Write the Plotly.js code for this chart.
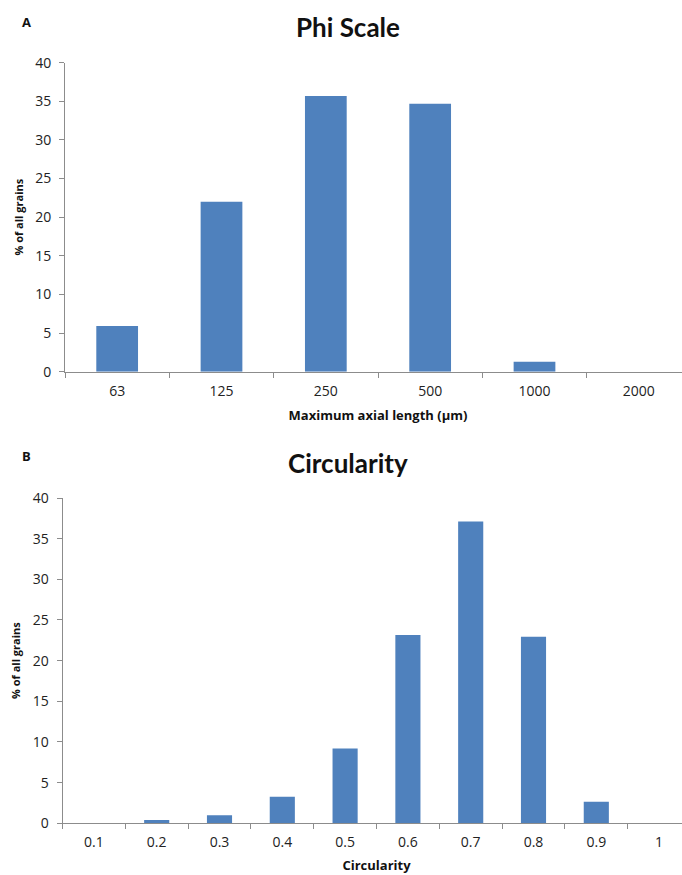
<!DOCTYPE html>
<html>
<head>
<meta charset="utf-8">
<script src="https://cdn.plot.ly/plotly-3.0.1.min.js"></script>
<style>
html,body{margin:0;padding:0;overflow:hidden;background:#fff;width:682px;height:875px;}
#chart{width:692px;height:875px;}
</style>
</head>
<body>
<div id="chart"></div>
<script>
// Panel A: Phi scale
const phiCategories = ["63", "125", "250", "500", "1000", "2000"];
const phiValues = [5.9, 22.0, 35.7, 34.7, 1.3, 0];
// Panel B: Circularity
const circCategories = ["0.1", "0.2", "0.3", "0.4", "0.5", "0.6", "0.7", "0.8", "0.9", "1"];
const circValues = [0, 0.4, 1.0, 3.25, 9.2, 23.15, 37.1, 22.95, 2.65, 0];

const barColor = "#4F81BD";
const axisGray = "#8c8c8c";
const titleFont = "Lato, 'Open Sans', sans-serif";
const font = "'Open Sans', Lato, sans-serif";

const traces = [
  {type: "bar", x: phiCategories, y: phiValues, xaxis: "x", yaxis: "y",
   marker: {color: barColor}, hoverinfo: "x+y", showlegend: false},
  {type: "bar", x: circCategories, y: circValues, xaxis: "x2", yaxis: "y2",
   marker: {color: barColor}, hoverinfo: "x+y", showlegend: false}
];

const W = 692, H = 875;
function yaxisCfg(domain, anchor) {
  return {
    domain: domain, anchor: anchor, range: [0, 40], dtick: 5, tick0: 0,
    showgrid: false, zeroline: false, showline: true, linecolor: axisGray, linewidth: 1,
    ticks: "outside", ticklen: 5, tickcolor: axisGray, tickwidth: 1, ticklabelstandoff: 5,
    tickfont: {family: font, size: 14, color: "#222"}, fixedrange: true,
    title: {text: "<b>% of all grains</b>", font: {family: font, size: 11, color: "#111"}, standoff: 9}
  };
}
function xaxisCfg(domain, anchor, titleText, standoff) {
  return {
    domain: domain, anchor: anchor, type: "category",
    showgrid: false, zeroline: false, showline: true, linecolor: axisGray, linewidth: 1,
    ticks: "outside", ticklen: 5, tickcolor: axisGray, tickwidth: 1, tickson: "boundaries",
    ticklabelstandoff: 6,
    tickfont: {family: font, size: 14, color: "#222"}, fixedrange: true,
    title: {text: "<b>" + titleText + "</b>", font: {family: font, size: 13, color: "#111"}, standoff: standoff}
  };
}

const layout = {
  width: W, height: H,
  margin: {l: 0, r: 0, t: 0, b: 0},
  paper_bgcolor: "#fff", plot_bgcolor: "#fff",
  bargap: 0.6,
  showlegend: false,
  xaxis: xaxisCfg([65 / W, 691 / W], "y", "Maximum axial length (µm)", 12),
  yaxis: yaxisCfg([(H - 371.7) / H, (H - 62.7) / H], "x"),
  xaxis2: xaxisCfg([62.5 / W, 690.5 / W], "y2", "Circularity", 10),
  yaxis2: yaxisCfg([(H - 823.3) / H, (H - 498) / H], "x2"),
  annotations: [
    {text: "<b>Phi Scale</b>", xref: "paper", yref: "paper", x: 348 / W, y: (H - 27) / H,
     xanchor: "center", yanchor: "middle", showarrow: false, font: {family: titleFont, size: 26, color: "#111"}},
    {text: "<b>Circularity</b>", xref: "paper", yref: "paper", x: 348 / W, y: (H - 463) / H,
     xanchor: "center", yanchor: "middle", showarrow: false, font: {family: titleFont, size: 26, color: "#111"}},
    {text: "<b>A</b>", xref: "paper", yref: "paper", x: 26 / W, y: (H - 22) / H,
     xanchor: "center", yanchor: "middle", showarrow: false, font: {family: font, size: 13, color: "#111"}},
    {text: "<b>B</b>", xref: "paper", yref: "paper", x: 26 / W, y: (H - 456) / H,
     xanchor: "center", yanchor: "middle", showarrow: false, font: {family: font, size: 13, color: "#111"}}
  ]
};

Plotly.newPlot("chart", traces, layout, {displayModeBar: false, staticPlot: true});
</script>
</body>
</html>
